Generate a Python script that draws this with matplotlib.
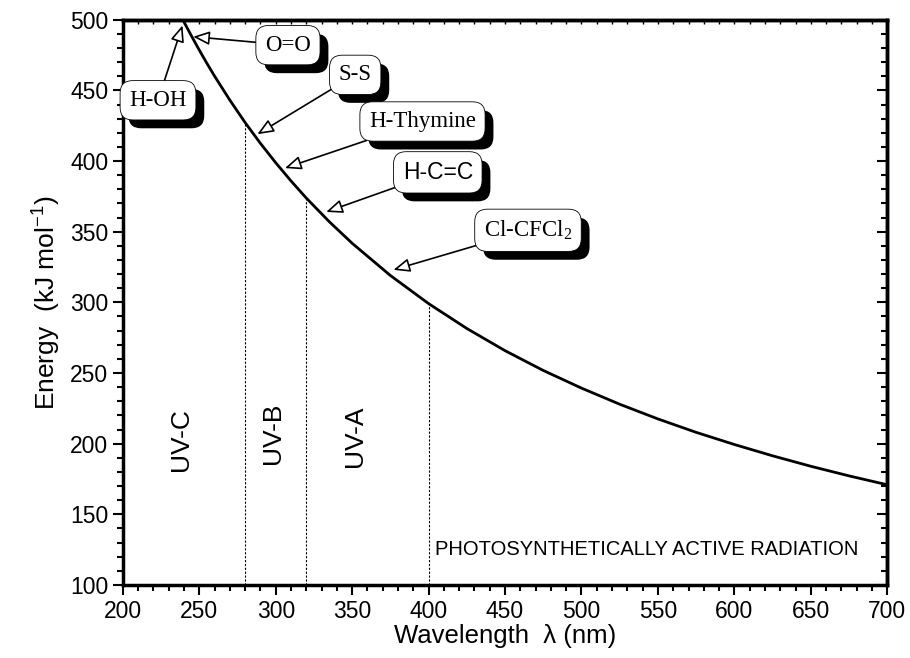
import matplotlib.pyplot as plt
import matplotlib.patheffects as pe
from matplotlib.ticker import MultipleLocator

# Energy of a photon vs wavelength
wavelength = [240, 245, 250, 255, 260, 270, 280, 290, 300, 310, 320, 335, 350,
              375, 400, 425, 450, 475, 500, 525, 550, 575, 600, 625, 650, 675, 700]
energy = [498.4, 488.3, 478.5, 469.1, 460.1, 443.1, 427.2, 412.5, 398.8, 385.9,
          373.8, 357.1, 341.8, 319.0, 299.1, 281.5, 265.8, 251.8, 239.3, 227.9,
          217.5, 208.0, 199.4, 191.4, 184.0, 177.2, 170.9]

# band boundaries (nm) and energy of curve there
band_edges = [280, 320, 400]
band_edge_energy = [427.2, 373.8, 299.1]
band_names = ["UV-C", "UV-B", "UV-A"]
band_label_x = [238, 298, 352]
band_label_y = [203, 207, 205]

# bond labels: text, label position, arrow tip
bond_labels = ["O=O", "H-OH", "S-S", "H-Thymine", "H-C=C",
               "Cl-CFCl$_\\mathregular{2}$"]
label_x = [308, 223, 352, 396, 406, 465]
label_y = [482, 443, 461, 428, 392, 351]
tip_x = [246, 239, 288, 306, 333, 377]
tip_y = [488, 496, 419, 395, 364, 323]

SANS = "Liberation Sans"

fig = plt.figure(figsize=(9.1, 6.58), dpi=100)
ax = fig.add_axes([0.135, 0.111, 0.84, 0.859])

ax.plot(wavelength, energy, color="black", lw=2)
for x0, e0 in zip(band_edges, band_edge_energy):
    ax.plot([x0, x0], [100, e0], color="black", lw=0.8, ls=(0, (2, 1.5)))

for name, x0, y0 in zip(band_names, band_label_x, band_label_y):
    ax.text(x0, y0, name, rotation=90, ha="center", va="center",
            fontsize=19, family=SANS)

ax.text(404, 125, "PHOTOSYNTHETICALLY ACTIVE RADIATION", ha="left", va="center",
        fontsize=14.5, family=SANS)

for lab, lx, ly, tx, ty in zip(bond_labels, label_x, label_y, tip_x, tip_y):
    fam = SANS if lab == "H-C=C" else "Liberation Serif"
    t = ax.annotate(lab, xy=(tx, ty), xytext=(lx, ly), ha="center", va="center",
                    fontsize=16.5, family=fam,
                    bbox=dict(boxstyle="round,pad=0.4,rounding_size=0.55",
                              fc="white", ec="black", lw=0.6),
                    arrowprops=dict(arrowstyle="-|>,head_length=0.6,head_width=0.25",
                                    fc="white", ec="black", lw=1.2,
                                    shrinkA=0, shrinkB=0))
    t.get_bbox_patch().set_path_effects(
        [pe.SimplePatchShadow(offset=(6, -6), shadow_rgbFace="black", alpha=1),
         pe.Normal()])

ax.set_xlim(200, 700)
ax.set_ylim(100, 500)
ax.xaxis.set_major_locator(MultipleLocator(50))
ax.xaxis.set_minor_locator(MultipleLocator(10))
ax.yaxis.set_major_locator(MultipleLocator(50))
ax.yaxis.set_minor_locator(MultipleLocator(10))

for s in ax.spines.values():
    s.set_linewidth(2.5)

ax.tick_params(which="both", direction="out", width=1.5, top=False, right=False)
ax.tick_params(which="major", length=7, labelsize=16.5)
ax.tick_params(which="minor", length=4)

# right and top axes with inward ticks, no labels
ax_r = ax.secondary_yaxis("right")
ax_r.yaxis.set_major_locator(MultipleLocator(50))
ax_r.yaxis.set_minor_locator(MultipleLocator(10))
ax_r.tick_params(which="both", direction="in", width=1.5, labelright=False)
ax_r.tick_params(which="major", length=7)
ax_r.tick_params(which="minor", length=4)
ax_r.spines["right"].set_linewidth(2.5)
ax_t = ax.secondary_xaxis("top")
ax_t.xaxis.set_major_locator(MultipleLocator(50))
ax_t.xaxis.set_minor_locator(MultipleLocator(10))
ax_t.tick_params(which="both", direction="in", width=1, length=3, labeltop=False)
ax_t.spines["top"].set_linewidth(2.5)

for lbl in ax.get_xticklabels() + ax.get_yticklabels():
    lbl.set_family(SANS)

ax.set_xlabel("Wavelength  λ (nm)", fontsize=18.5, family=SANS, labelpad=1)
ax.set_ylabel("Energy  (kJ mol$^\\mathregular{-1}$)", fontsize=19, family=SANS,
              labelpad=6)

plt.savefig("out.png", dpi=100)
plt.close()
